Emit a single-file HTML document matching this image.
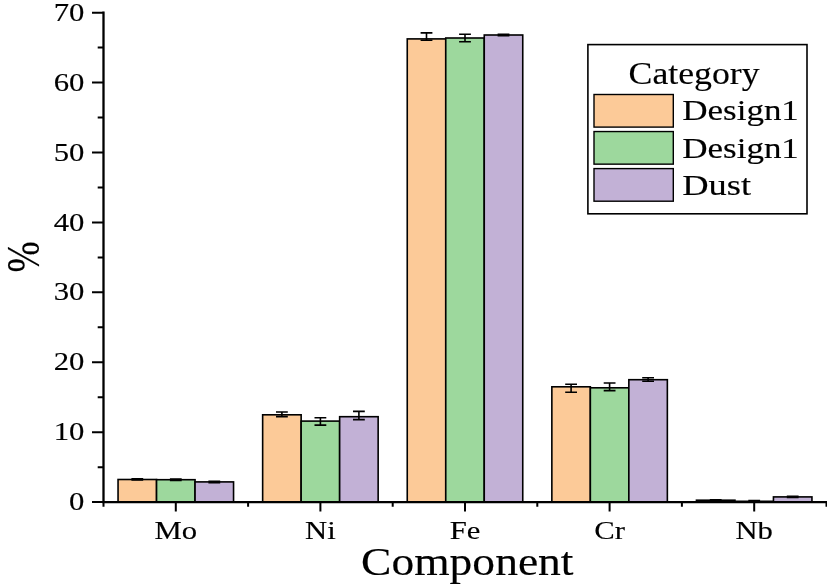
<!DOCTYPE html>
<html><head><meta charset="utf-8"><title>Component chart</title>
<style>
html,body{margin:0;padding:0;background:#fff;}
body{width:827px;height:587px;overflow:hidden;}
svg{display:block;}
text{font-family:"Liberation Serif","Times New Roman",serif;fill:#000;stroke:#000;stroke-width:0.15px;}
</style></head><body>
<svg width="827" height="587" viewBox="0 0 827 587">
<rect width="827" height="587" fill="#fff"/>
<rect x="118.05" y="479.50" width="38.50" height="22.60" fill="#FCCA98" stroke="#000" stroke-width="1.6"/>
<rect x="156.55" y="479.70" width="38.50" height="22.40" fill="#9DD89D" stroke="#000" stroke-width="1.6"/>
<rect x="195.05" y="481.90" width="38.50" height="20.20" fill="#C2B1D6" stroke="#000" stroke-width="1.6"/>
<rect x="262.65" y="414.80" width="38.50" height="87.30" fill="#FCCA98" stroke="#000" stroke-width="1.6"/>
<rect x="301.15" y="421.10" width="38.50" height="81.00" fill="#9DD89D" stroke="#000" stroke-width="1.6"/>
<rect x="339.65" y="416.70" width="38.50" height="85.40" fill="#C2B1D6" stroke="#000" stroke-width="1.6"/>
<rect x="407.25" y="38.90" width="38.50" height="463.20" fill="#FCCA98" stroke="#000" stroke-width="1.6"/>
<rect x="445.75" y="38.00" width="38.50" height="464.10" fill="#9DD89D" stroke="#000" stroke-width="1.6"/>
<rect x="484.25" y="35.00" width="38.50" height="467.10" fill="#C2B1D6" stroke="#000" stroke-width="1.6"/>
<rect x="551.85" y="386.80" width="38.50" height="115.30" fill="#FCCA98" stroke="#000" stroke-width="1.6"/>
<rect x="590.35" y="387.80" width="38.50" height="114.30" fill="#9DD89D" stroke="#000" stroke-width="1.6"/>
<rect x="628.85" y="379.70" width="38.50" height="122.40" fill="#C2B1D6" stroke="#000" stroke-width="1.6"/>
<rect x="696.45" y="500.20" width="38.50" height="1.90" fill="#FCCA98" stroke="#000" stroke-width="1.6"/>
<rect x="734.95" y="501.30" width="38.50" height="0.80" fill="#9DD89D" stroke="#000" stroke-width="1.6"/>
<rect x="773.45" y="496.90" width="38.50" height="5.20" fill="#C2B1D6" stroke="#000" stroke-width="1.6"/>
<path d="M137.30 478.70V480.00M131.40 478.70H143.20M131.40 480.00H143.20" stroke="#000" stroke-width="1.6" fill="none"/>
<path d="M175.80 479.00V480.40M169.90 479.00H181.70M169.90 480.40H181.70" stroke="#000" stroke-width="1.6" fill="none"/>
<path d="M214.30 481.20V482.60M208.40 481.20H220.20M208.40 482.60H220.20" stroke="#000" stroke-width="1.6" fill="none"/>
<path d="M281.90 412.00V416.60M276.00 412.00H287.80M276.00 416.60H287.80" stroke="#000" stroke-width="1.6" fill="none"/>
<path d="M320.40 417.80V425.10M314.50 417.80H326.30M314.50 425.10H326.30" stroke="#000" stroke-width="1.6" fill="none"/>
<path d="M358.90 411.40V419.60M353.00 411.40H364.80M353.00 419.60H364.80" stroke="#000" stroke-width="1.6" fill="none"/>
<path d="M426.50 32.90V40.20M420.60 32.90H432.40M420.60 40.20H432.40" stroke="#000" stroke-width="1.6" fill="none"/>
<path d="M465.00 34.20V41.70M459.10 34.20H470.90M459.10 41.70H470.90" stroke="#000" stroke-width="1.6" fill="none"/>
<path d="M503.50 34.30V35.70M497.60 34.30H509.40M497.60 35.70H509.40" stroke="#000" stroke-width="1.6" fill="none"/>
<path d="M571.10 384.20V392.20M565.20 384.20H577.00M565.20 392.20H577.00" stroke="#000" stroke-width="1.6" fill="none"/>
<path d="M609.60 383.00V390.60M603.70 383.00H615.50M603.70 390.60H615.50" stroke="#000" stroke-width="1.6" fill="none"/>
<path d="M648.10 377.80V381.30M642.20 377.80H654.00M642.20 381.30H654.00" stroke="#000" stroke-width="1.6" fill="none"/>
<path d="M715.70 499.70V500.50M709.80 499.70H721.60M709.80 500.50H721.60" stroke="#000" stroke-width="1.6" fill="none"/>
<path d="M754.20 500.60V501.30M748.30 500.60H760.10M748.30 501.30H760.10" stroke="#000" stroke-width="1.6" fill="none"/>
<path d="M792.70 496.30V497.40M786.80 496.30H798.60M786.80 497.40H798.60" stroke="#000" stroke-width="1.6" fill="none"/>
<path d="M103.50 11.51V503.25M102.35 502.10H827" stroke="#000" stroke-width="2.3" fill="none"/>
<path d="M103.50 502.10h-11.5M103.50 467.14h-5.8M103.50 432.18h-11.5M103.50 397.22h-5.8M103.50 362.26h-11.5M103.50 327.30h-5.8M103.50 292.34h-11.5M103.50 257.38h-5.8M103.50 222.42h-11.5M103.50 187.46h-5.8M103.50 152.50h-11.5M103.50 117.54h-5.8M103.50 82.58h-11.5M103.50 47.62h-5.8M103.50 12.66h-11.5M103.50 502.10v4.6M175.80 502.10v9.5M248.10 502.10v4.6M320.40 502.10v9.5M392.70 502.10v4.6M465.00 502.10v9.5M537.30 502.10v4.6M609.60 502.10v9.5M681.90 502.10v4.6M754.20 502.10v9.5M826.50 502.10v4.6" stroke="#000" stroke-width="2" fill="none"/>
<text transform="translate(84.40 510.20) scale(1.18 1)" font-size="26" text-anchor="end">0</text>
<text transform="translate(84.40 440.28) scale(1.18 1)" font-size="26" text-anchor="end">10</text>
<text transform="translate(84.40 370.36) scale(1.18 1)" font-size="26" text-anchor="end">20</text>
<text transform="translate(84.40 300.44) scale(1.18 1)" font-size="26" text-anchor="end">30</text>
<text transform="translate(84.40 230.52) scale(1.18 1)" font-size="26" text-anchor="end">40</text>
<text transform="translate(84.40 160.60) scale(1.18 1)" font-size="26" text-anchor="end">50</text>
<text transform="translate(84.40 90.68) scale(1.18 1)" font-size="26" text-anchor="end">60</text>
<text transform="translate(84.40 20.76) scale(1.18 1)" font-size="26" text-anchor="end">70</text>
<text transform="translate(175.80 538.50) scale(1.18 1)" font-size="26" text-anchor="middle">Mo</text>
<text transform="translate(320.40 538.50) scale(1.18 1)" font-size="26" text-anchor="middle">Ni</text>
<text transform="translate(465.00 538.50) scale(1.18 1)" font-size="26" text-anchor="middle">Fe</text>
<text transform="translate(609.60 538.50) scale(1.18 1)" font-size="26" text-anchor="middle">Cr</text>
<text transform="translate(754.20 538.50) scale(1.18 1)" font-size="26" text-anchor="middle">Nb</text>
<text transform="translate(467.30 575.00) scale(1.167 1)" font-size="39" text-anchor="middle" stroke-width="0.3">Component</text>
<text transform="translate(38.8 257.0) rotate(-90) scale(1 1.24)" font-size="37.5" text-anchor="middle" stroke-width="0.3">%</text>
<rect x="587.9" y="44.6" width="219.1" height="169.2" fill="#fff" stroke="#000" stroke-width="1.6"/>
<rect x="594.0" y="94.50" width="79.3" height="32.6" fill="#FCCA98" stroke="#000" stroke-width="1.4"/>
<text transform="translate(682.30 120.40) scale(1.19 1)" font-size="29.4" text-anchor="start" stroke-width="0.2">Design1</text>
<rect x="594.0" y="131.55" width="79.3" height="32.6" fill="#9DD89D" stroke="#000" stroke-width="1.4"/>
<text transform="translate(682.30 157.50) scale(1.19 1)" font-size="29.4" text-anchor="start" stroke-width="0.2">Design1</text>
<rect x="594.0" y="168.60" width="79.3" height="32.6" fill="#C2B1D6" stroke="#000" stroke-width="1.4"/>
<text transform="translate(682.30 194.60) scale(1.24 1)" font-size="29.4" text-anchor="start" stroke-width="0.2">Dust</text>
<text transform="translate(628.60 84.40) scale(1.135 1)" font-size="31.5" text-anchor="start" stroke-width="0.2">Category</text>
</svg></body></html>
